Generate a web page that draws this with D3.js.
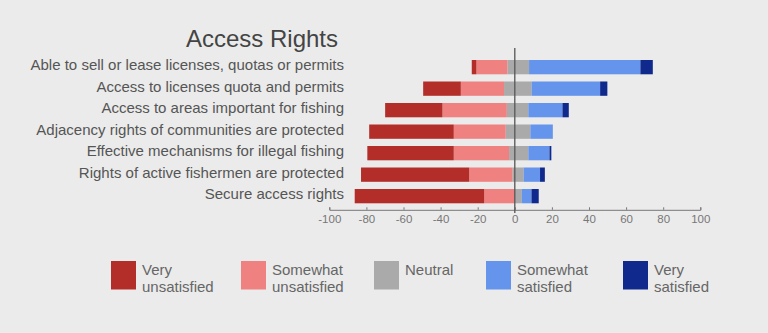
<!DOCTYPE html>
<html>
<head>
<meta charset="utf-8">
<script src="https://cdn.jsdelivr.net/npm/d3@7"></script>
<style>
  html, body { margin: 0; padding: 0; background: #ebebeb; }
  svg { display: block; font-family: "Liberation Sans", Arial, Helvetica, sans-serif; }
</style>
</head>
<body>
<svg id="chart" width="768" height="333"></svg>
<script>
// ---- data ----
const title = "Access Rights";
const categories = [
  "Able to sell or lease licenses, quotas or permits",
  "Access to licenses quota and permits",
  "Access to areas important for fishing",
  "Adjacency rights of communities are protected",
  "Effective mechanisms for illegal fishing",
  "Rights of active fishermen are protected",
  "Secure access rights"
];
const veryUnsatisfied     = [2.5, 20.3, 30.9, 45.6, 46.6, 58.3, 69.8];
const somewhatUnsatisfied = [16.7, 23.3, 34.7, 28.0, 29.8, 23.3, 16.5];
const neutralLeft         = [4.0, 5.8, 4.3, 4.9, 3.1, 1.3, 0.0];
const neutralRight        = [7.7, 9.1, 7.3, 8.4, 7.3, 4.8, 3.8];
const somewhatSatisfied   = [60.0, 36.9, 18.4, 12.1, 11.4, 8.8, 5.2];
const verySatisfied       = [6.7, 3.9, 3.4, 0.0, 1.0, 2.6, 3.9];
const tickValues = [-100, -80, -60, -40, -20, 0, 20, 40, 60, 80, 100];
const legendLabels = [
  ["Very", "unsatisfied"],
  ["Somewhat", "unsatisfied"],
  ["Neutral"],
  ["Somewhat", "satisfied"],
  ["Very", "satisfied"]
];

// ---- styles / layout ----
const colors = ["#b32e29", "#ef8181", "#aaaaaa", "#6494eb", "#0f2a8c"];
const legendX = [111, 241, 374, 486, 623];

const svg = d3.select("#chart");
const x = d3.scaleLinear().domain([-100, 100]).range([329.3, 700.3]);
const y = d3.scaleBand().domain(categories).range([56.4, 206.9]).paddingInner(0.335).paddingOuter(0.1675);

// build segments
const segs = [];
categories.forEach((c, i) => {
  const nl = neutralLeft[i], su = somewhatUnsatisfied[i], vu = veryUnsatisfied[i];
  segs.push({c, a: -nl, b: 0, k: 2});
  segs.push({c, a: -nl - su, b: -nl, k: 1});
  segs.push({c, a: -nl - su - vu, b: -nl - su, k: 0});
  const nr = neutralRight[i], ss = somewhatSatisfied[i], vs = verySatisfied[i];
  segs.push({c, a: 0, b: nr, k: 2});
  segs.push({c, a: nr, b: nr + ss, k: 3});
  segs.push({c, a: nr + ss, b: nr + ss + vs, k: 4});
});

svg.append("g").selectAll("rect").data(segs.filter(d => d.b - d.a > 0)).join("rect")
  .attr("x", d => x(d.a))
  .attr("width", d => x(d.b) - x(d.a))
  .attr("y", d => y(d.c))
  .attr("height", y.bandwidth())
  .attr("fill", d => colors[d.k]);

// axis
const axis = d3.axisBottom(x).tickValues(tickValues).tickSize(-2.5).tickPadding(5).tickFormat(d => String(d));
const ag = svg.append("g").attr("transform", "translate(0,209.8)").call(axis);
ag.select(".domain").attr("stroke", "#777").attr("stroke-width", 1);
ag.selectAll(".tick line").attr("stroke", "#777");
ag.selectAll(".tick text").attr("fill", "#777").attr("font-size", 11.5)
  .attr("font-family", "'Liberation Sans', Arial, sans-serif");

// zero line
svg.append("line")
  .attr("x1", x(0)).attr("x2", x(0))
  .attr("y1", 48).attr("y2", 213)
  .attr("stroke", "#555").attr("stroke-width", 1.3);

// category labels
svg.append("g").selectAll("text").data(categories).join("text")
  .attr("x", 344)
  .attr("y", d => y(d) + y.bandwidth() / 2 + 3)
  .attr("text-anchor", "end")
  .attr("font-size", 15)
  .attr("fill", "#555")
  .text(d => d);

// title
svg.append("text")
  .attr("x", 338).attr("y", 47.3)
  .attr("text-anchor", "end")
  .attr("font-size", 24)
  .attr("fill", "#444")
  .text(title);

// legend
const lg = svg.append("g").selectAll("g").data(legendLabels).join("g")
  .attr("transform", (d, i) => `translate(${legendX[i]},0)`);
lg.append("rect").attr("x", 0).attr("y", 261).attr("width", 25).attr("height", 28.5)
  .attr("fill", (d, i) => colors[i]);
lg.each(function(d) {
  const g = d3.select(this);
  d.forEach((t, j) => {
    g.append("text").attr("x", 31).attr("y", 275 + j * 17)
      .attr("font-size", 15).attr("fill", "#666").text(t);
  });
});
</script>
</body>
</html>
